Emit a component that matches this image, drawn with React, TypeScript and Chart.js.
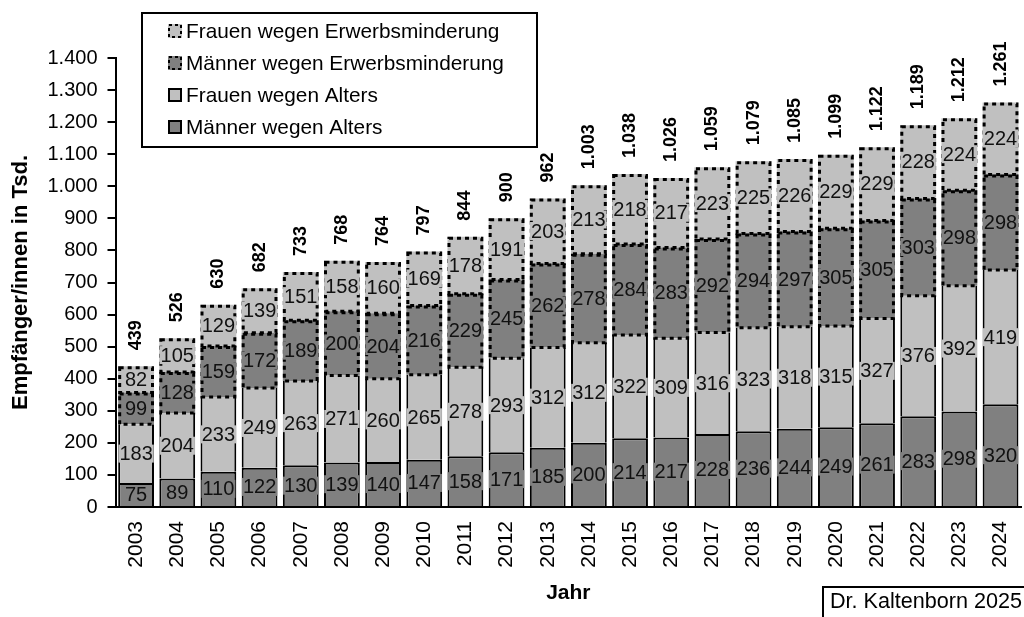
import React, { useEffect, useRef } from "react";
import { Chart, registerables } from "chart.js";

Chart.register(...registerables);

const years = ["2003", "2004", "2005", "2006", "2007", "2008", "2009", "2010", "2011", "2012", "2013", "2014", "2015", "2016", "2017", "2018", "2019", "2020", "2021", "2022", "2023", "2024"];
const maennerAlters = [75, 89, 110, 122, 130, 139, 140, 147, 158, 171, 185, 200, 214, 217, 228, 236, 244, 249, 261, 283, 298, 320];
const frauenAlters = [183, 204, 233, 249, 263, 271, 260, 265, 278, 293, 312, 312, 322, 309, 316, 323, 318, 315, 327, 376, 392, 419];
const maennerEM = [99, 128, 159, 172, 189, 200, 204, 216, 229, 245, 262, 278, 284, 283, 292, 294, 297, 305, 305, 303, 298, 298];
const frauenEM = [82, 105, 129, 139, 151, 158, 160, 169, 178, 191, 203, 213, 218, 217, 223, 225, 226, 229, 229, 228, 224, 224];
const totals = [439, 526, 630, 682, 733, 768, 764, 797, 844, 900, 962, 1003, 1038, 1026, 1059, 1079, 1085, 1099, 1122, 1189, 1212, 1261];

const seriesNames = ["Männer wegen Alters", "Frauen wegen Alters", "Männer wegen Erwerbsminderung", "Frauen wegen Erwerbsminderung"];
const DARK = "#808080";
const LIGHT = "#c0c0c0";
const FONT = "'Liberation Sans', Arial, sans-serif";

const de = (n: number) => String(n).replace(/\B(?=(\d{3})+(?!\d))/g, ".");

const dashedSets = [2, 3];

const overlayPlugin = {
  id: "overlay",
  afterDatasetsDraw(chart: any) {
    const ctx = chart.ctx as CanvasRenderingContext2D;
    // dashed borders for Erwerbsminderung segments
    dashedSets.forEach((di) => {
      const meta = chart.getDatasetMeta(di);
      meta.data.forEach((bar: any) => {
        const { x, y, base, width } = bar.getProps(["x", "y", "base", "width"], true);
        ctx.save();
        ctx.setLineDash([4, 4]);
        ctx.lineWidth = 3;
        ctx.strokeStyle = "#000";
        ctx.strokeRect(x - width / 2 + 1.5, y + 1.5, width - 3, base - y - 1.5);
        ctx.restore();
      });
    });
    // segment value labels
    chart.data.datasets.forEach((ds: any, di: number) => {
      const meta = chart.getDatasetMeta(di);
      meta.data.forEach((bar: any, i: number) => {
        const { x, y, base } = bar.getProps(["x", "y", "base"], true);
        const cy = (y + base) / 2;
        const txt = de(ds.data[i]);
        ctx.save();
        ctx.font = `20px ${FONT}`;
        const w = ctx.measureText(txt).width;
        ctx.fillStyle = ds.backgroundColor;
        ctx.fillRect(x - w / 2 - 1, cy - 9, w + 2, 18);
        ctx.fillStyle = "#111";
        ctx.textAlign = "center";
        ctx.textBaseline = "middle";
        ctx.fillText(txt, x, cy + 1);
        ctx.restore();
      });
    });
    // totals above bars
    const topMeta = chart.getDatasetMeta(chart.data.datasets.length - 1);
    topMeta.data.forEach((bar: any, i: number) => {
      const { x, y } = bar.getProps(["x", "y"], true);
      ctx.save();
      ctx.translate(x, y - 16);
      ctx.rotate(-Math.PI / 2);
      ctx.font = `bold 18px ${FONT}`;
      ctx.fillStyle = "#000";
      ctx.textAlign = "left";
      ctx.textBaseline = "middle";
      ctx.fillText(de(totals[i]), 0, 0);
      ctx.restore();
    });
  },
  afterDraw(chart: any) {
    const ctx = chart.ctx as CanvasRenderingContext2D;
    // legend box
    ctx.save();
    ctx.fillStyle = "#fff";
    ctx.fillRect(142, 13, 395, 134);
    ctx.lineWidth = 2;
    ctx.strokeStyle = "#000";
    ctx.strokeRect(142, 13, 395, 134);
    const order = [3, 2, 1, 0];
    order.forEach((di, row) => {
      const ds = chart.data.datasets[di];
      const cy = 31 + row * 32;
      ctx.fillStyle = ds.backgroundColor;
      ctx.fillRect(168, cy - 7, 14, 14);
      ctx.lineWidth = 2;
      ctx.strokeStyle = "#000";
      if (dashedSets.includes(di)) {
        ctx.setLineDash([3, 3]);
      } else {
        ctx.setLineDash([]);
      }
      ctx.strokeRect(169, cy - 6, 12, 12);
      ctx.setLineDash([]);
      ctx.fillStyle = "#000";
      ctx.font = `20.8px ${FONT}`;
      ctx.textAlign = "left";
      ctx.textBaseline = "middle";
      ctx.fillText(ds.label, 186, cy + 1);
    });
    // credit box
    ctx.lineWidth = 2;
    ctx.strokeStyle = "#000";
    ctx.strokeRect(823, 587, 260, 60);
    ctx.fillStyle = "#000";
    ctx.font = `21.6px ${FONT}`;
    ctx.textAlign = "left";
    ctx.textBaseline = "alphabetic";
    ctx.fillText("Dr. Kaltenborn 2025", 830, 608);
    ctx.restore();
  },
};

export default function App() {
  const ref = useRef<HTMLCanvasElement | null>(null);
  useEffect(() => {
    if (!ref.current) return;
    const chart = new Chart(ref.current, {
      type: "bar",
      data: {
        labels: years,
        datasets: [
          { label: seriesNames[0], data: maennerAlters, backgroundColor: DARK, borderColor: "#000", borderWidth: { top: 2, left: 2, right: 2, bottom: 0 } as any },
          { label: seriesNames[1], data: frauenAlters, backgroundColor: LIGHT, borderColor: "#000", borderWidth: { top: 0, left: 2, right: 2, bottom: 0 } as any },
          { label: seriesNames[2], data: maennerEM, backgroundColor: DARK, borderWidth: 0 },
          { label: seriesNames[3], data: frauenEM, backgroundColor: LIGHT, borderWidth: 0 },
        ],
      },
      options: {
        responsive: false,
        animation: false,
        devicePixelRatio: 1,
        layout: { padding: { top: 58, left: 0, right: 11.5, bottom: 0 } },
        datasets: { bar: { categoryPercentage: 1, barPercentage: 0.87 } },
        plugins: { legend: { display: false }, tooltip: { enabled: false } },
        scales: {
          x: {
            stacked: true,
            afterFit: (s: any) => { s.height = 110; },
            grid: { display: false, drawTicks: false, tickLength: 0 },
            border: { display: true, color: "#000", width: 2 },
            ticks: { color: "#000", font: { family: FONT, size: 21 }, minRotation: 90, maxRotation: 90, padding: 14, autoSkip: false },
            title: { display: true, text: "Jahr", color: "#000", font: { family: FONT, size: 21, weight: "bold" }, padding: { top: 0, bottom: 11 } },
          },
          y: {
            stacked: true,
            min: 0,
            max: 1400,
            afterFit: (s: any) => { s.width = 115.5; },
            grid: { display: true, drawOnChartArea: false, drawTicks: true, tickLength: 8, color: "#000", lineWidth: 2 },
            border: { display: true, color: "#000", width: 2 },
            ticks: { stepSize: 100, color: "#000", font: { family: FONT, size: 20 }, padding: 10, callback: (v: any) => de(Number(v)) },
            title: { display: true, text: "Empfänger/innen in Tsd.", color: "#000", font: { family: FONT, size: 22, weight: "bold" }, padding: { top: 8, bottom: 0 } },
          },
        },
      },
      plugins: [overlayPlugin],
    });
    return () => chart.destroy();
  }, []);
  return (
    <div style={{ position: "fixed", left: 0, top: 0, width: 1024, height: 617, overflow: "hidden", background: "#fff" }}>
      <canvas ref={ref} width={1040} height={617} style={{ display: "block" }} />
    </div>
  );
}
